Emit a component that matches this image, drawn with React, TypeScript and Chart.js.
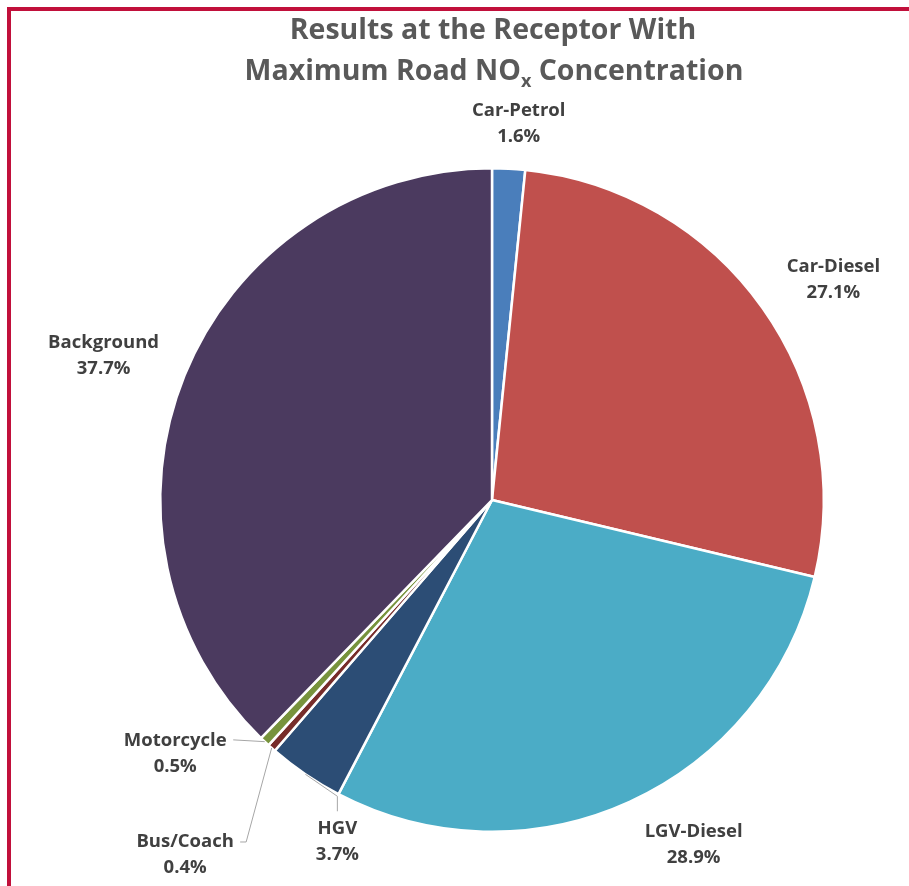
import React, { useEffect, useRef } from "react";
import { Chart, registerables } from "chart.js";

Chart.register(...registerables);

const categories = ["Car-Petrol", "Car-Diesel", "LGV-Diesel", "HGV", "Bus/Coach", "Motorcycle", "Background"];
const shares = [1.6, 27.1, 28.9, 3.7, 0.4, 0.5, 37.7];
const sliceColors = ["#4a7ebb", "#c0504d", "#4bacc6", "#2c4d75", "#772c2a", "#77933c", "#4b3a5f"];

const titleLine1 = "Results at the Receptor With";
const titleLine2a = "Maximum Road NO";
const titleSub = "x";
const titleLine2b = " Concentration";

// label layout: offset of label centre from the slice's rim point at its mid-angle
const labelOffsets: [number, number][] = [
  [10, -45],
  [71, -28],
  [64, 43],
  [32, 67],
  [-86.5, 106.5],
  [-89.5, 11.7],
  [-81, -20],
];
// leader lines: points relative to label centre (start is always the rim point)
const leaders: ([number, number][] | null)[] = [
  null,
  null,
  null,
  [[0, -45], [0, -30]],
  [[61, -12.5], [55, -12.5]],
  [[58, -13.5]],
  null,
];

const FONT = "'Open Sans', 'DejaVu Sans', sans-serif";

const labelPlugin = {
  id: "customLabels",
  afterDraw(chart: any) {
    const ctx = chart.ctx as CanvasRenderingContext2D;
    const meta = chart.getDatasetMeta(0);
    ctx.save();
    // title
    ctx.fillStyle = "#595959";
    ctx.textBaseline = "middle";
    ctx.textAlign = "center";
    ctx.font = `bold 28.5px ${FONT}`;
    ctx.fillText(titleLine1, 493, 31);
    const w2a = ctx.measureText(titleLine2a).width;
    const w2b = ctx.measureText(titleLine2b).width;
    ctx.font = `bold 18px ${FONT}`;
    const ws = ctx.measureText(titleSub).width;
    const total = w2a + ws + w2b;
    let x = 494 - total / 2;
    ctx.textAlign = "left";
    ctx.font = `bold 28.5px ${FONT}`;
    ctx.fillText(titleLine2a, x, 72);
    x += w2a;
    ctx.font = `bold 18px ${FONT}`;
    ctx.fillText(titleSub, x, 82);
    x += ws;
    ctx.font = `bold 28.5px ${FONT}`;
    ctx.fillText(titleLine2b, x, 72);

    // labels
    ctx.textAlign = "center";
    meta.data.forEach((arc: any, i: number) => {
      const mid = (arc.startAngle + arc.endAngle) / 2;
      const rx = arc.x + Math.cos(mid) * arc.outerRadius;
      const ry = arc.y + Math.sin(mid) * arc.outerRadius;
      const cx = rx + labelOffsets[i][0];
      const cy = ry + labelOffsets[i][1];
      const lead = leaders[i];
      if (lead) {
        ctx.strokeStyle = "#a6a6a6";
        ctx.lineWidth = 1;
        ctx.beginPath();
        ctx.moveTo(rx, ry);
        lead.forEach((p) => ctx.lineTo(cx + p[0], cy + p[1]));
        ctx.stroke();
      }
      ctx.fillStyle = "#404040";
      ctx.font = `bold 18.5px ${FONT}`;
      ctx.fillText(categories[i], cx, cy - 13);
      ctx.fillText(shares[i].toFixed(1) + "%", cx, cy + 13);
    });
    ctx.restore();
  },
};

export default function App() {
  const ref = useRef<HTMLCanvasElement>(null);
  useEffect(() => {
    if (!ref.current) return;
    const chart = new Chart(ref.current, {
      type: "pie",
      data: {
        labels: categories,
        datasets: [
          {
            data: shares,
            backgroundColor: sliceColors,
            borderColor: "#ffffff",
            borderWidth: 2.5,
          },
        ],
      },
      options: {
        responsive: false,
        animation: false,
        layout: { padding: { left: 159, right: 84, top: 167, bottom: 53 } },
        plugins: { legend: { display: false }, tooltip: { enabled: false }, title: { display: false } },
      },
      plugins: [labelPlugin],
    });
    return () => chart.destroy();
  }, []);
  return (
    <div style={{ position: "fixed", left: 0, top: 0, width: 909, height: 886, overflow: "hidden", background: "#fff" }}>
      <div
        style={{
          position: "absolute",
          left: 7,
          top: 7,
          width: 1000,
          height: 1000,
          borderLeft: "4px solid #c1103b",
          borderTop: "4px solid #c1103b",
        }}
      />
      <canvas ref={ref} width={909} height={886} style={{ position: "absolute", left: 0, top: 0 }} />
    </div>
  );
}
